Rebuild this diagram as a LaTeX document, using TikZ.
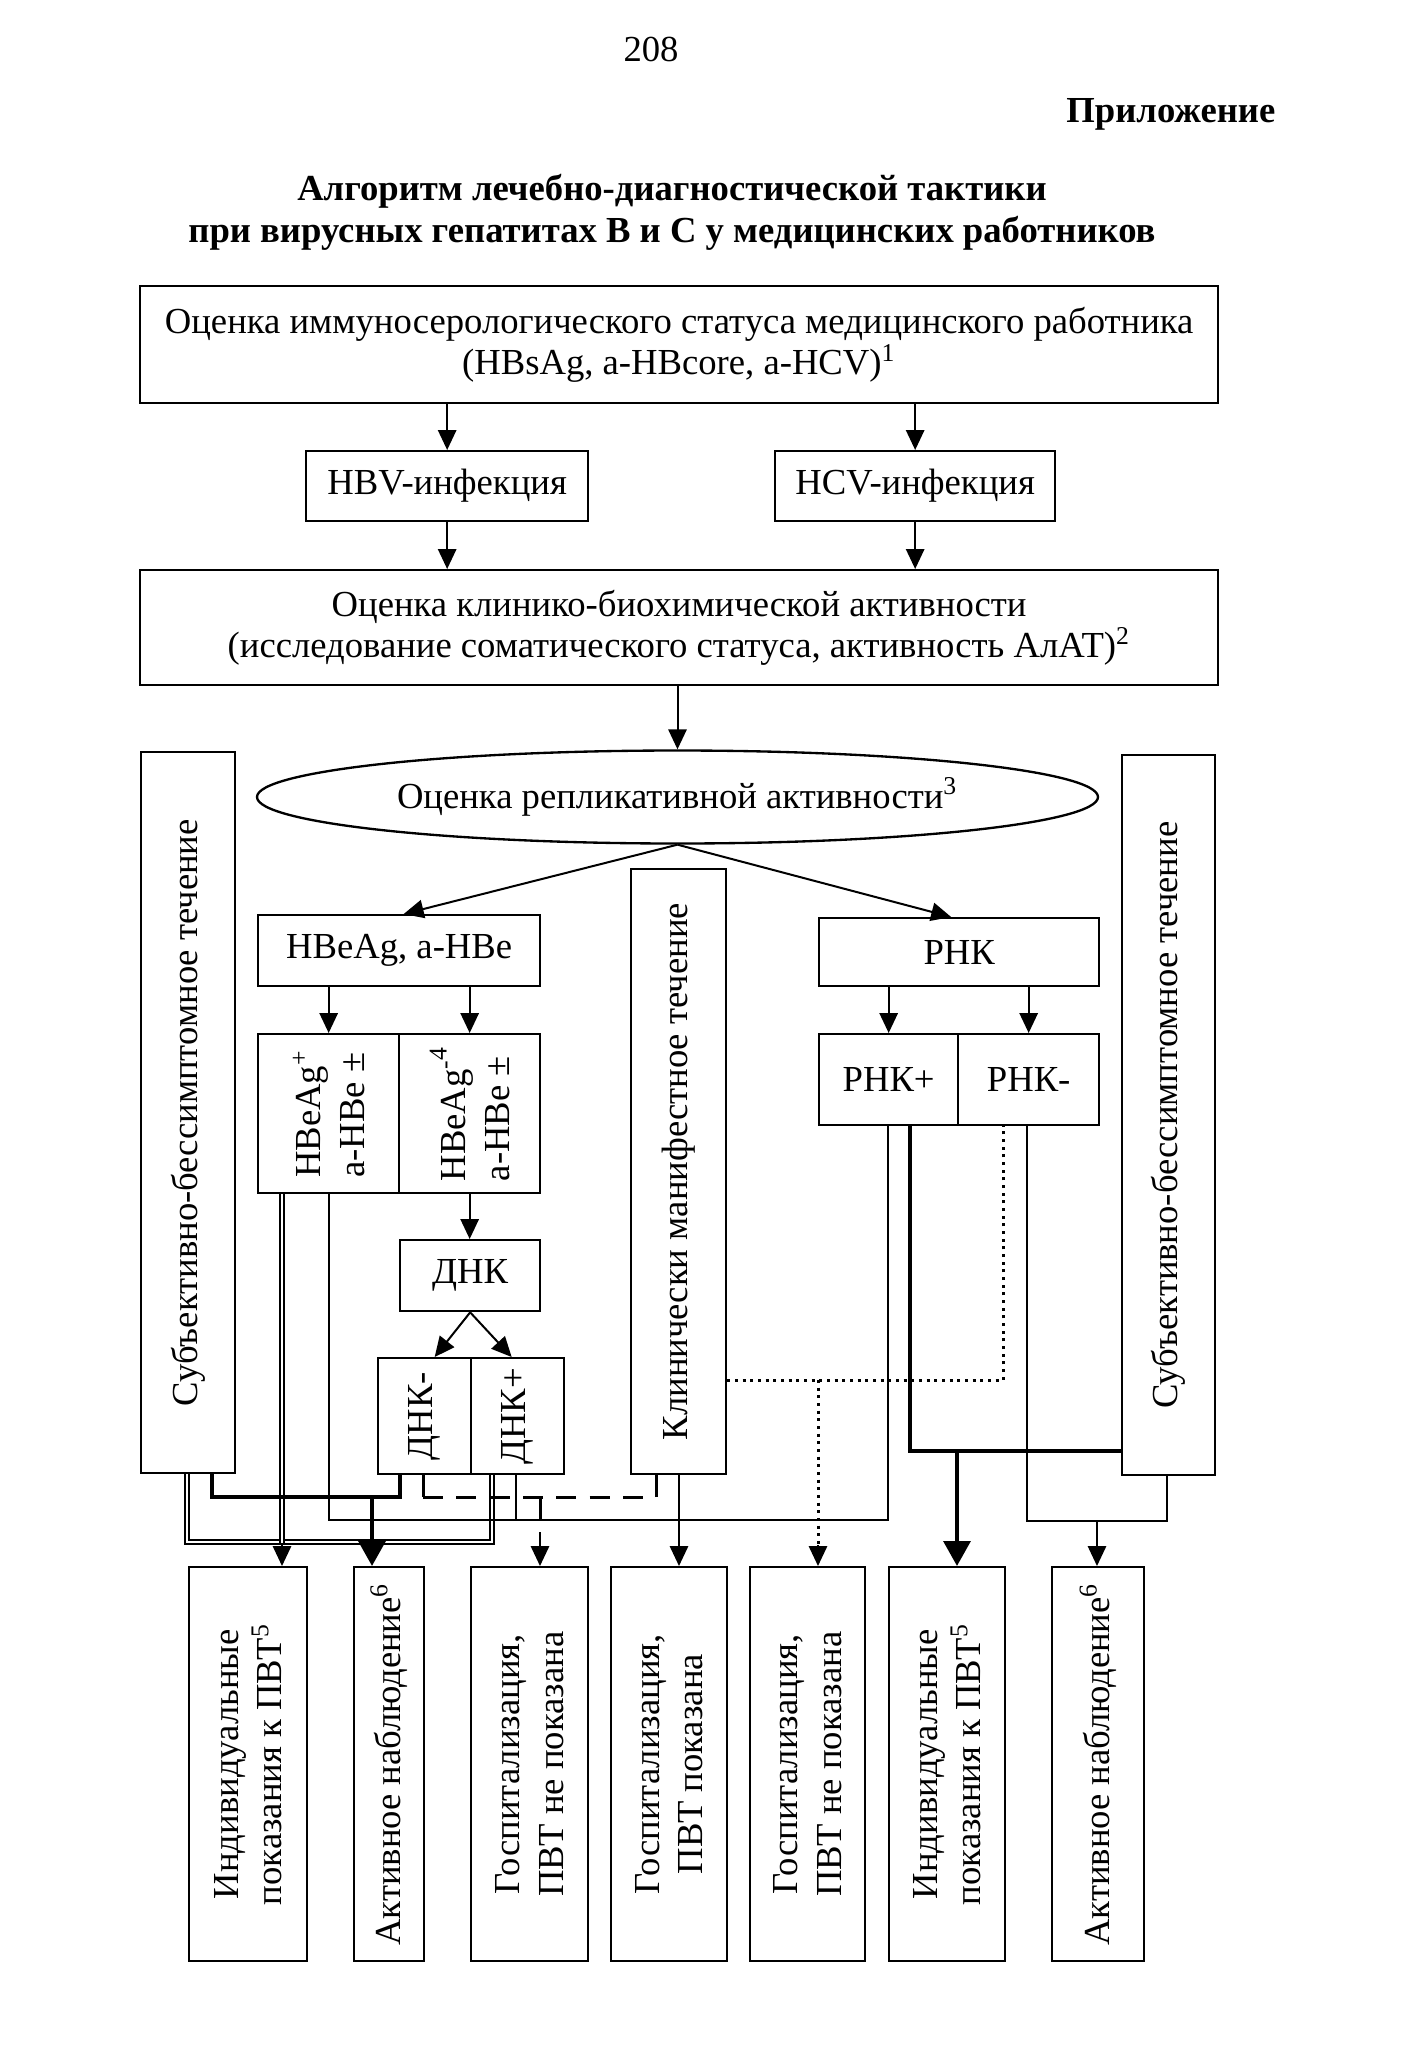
\documentclass[tikz,border=0pt]{standalone}
\usepackage{fontspec}
\setmainfont{Liberation Serif}
\usetikzlibrary{arrows.meta,calc,shapes.geometric}
\tikzset{
  box/.style={draw, line width=0.7pt, inner sep=0pt, anchor=north west, align=center, font=\fontsize{11}{12.5}\selectfont},
  rot/.style={rotate=90, inner sep=0pt, align=center, font=\fontsize{11}{13}\selectfont},
  txt/.style={inner sep=0pt, font=\fontsize{11}{13}\selectfont},
  btxt/.style={inner sep=0pt, font=\fontsize{11}{13}\selectfont\bfseries},
  arr/.style={line width=0.6pt, -{Triangle[length=6pt,width=5.5pt]}},
  tharr/.style={line width=1.3pt, -{Triangle[length=7.5pt,width=8pt]}},
  thk/.style={line width=1.3pt},
  thn/.style={line width=0.6pt},
  dbl/.style={double, double distance=0.7pt, line width=0.45pt},
  dsh/.style={line width=0.9pt, dash pattern=on 6pt off 4pt},
  dtt/.style={line width=0.9pt, dash pattern=on 0.9pt off 1.4pt}
}
\newcommand\bx[7][]{\node[box,minimum width={(#5-#3)*0.3pt},minimum height={(#6-#4)*0.3pt},#1] (#2) at (#3,#4) {#7};}
\begin{document}
\begin{tikzpicture}[x=0.3pt,y=-0.3pt]
\useasboundingbox (0,0) rectangle (1401,2050);
% header
\node[txt] (pg) at (651,49) {208};
\node[btxt, anchor=east] (app) at (1276,114) {Приложение};
\node[btxt] (t1) at (672,191) {Алгоритм лечебно-диагностической тактики};
\node[btxt] (t2) at (672,233) {при вирусных гепатитах В и С у медицинских работников};
% boxes
\bx{top}{139}{285}{1217}{402}{Оценка иммуносерологического статуса медицинского работника\\(HBsAg, a-HBcore, a-HCV)\textsuperscript{1}}
\bx{hbv}{305}{450}{587}{520}{HBV-инфекция}
\bx{hcv}{774}{450}{1054}{520}{HCV-инфекция}
\bx{bio}{139}{569}{1217}{684}{Оценка клинико-биохимической активности\\(исследование соматического статуса, активность АлАТ)\textsuperscript{2}}
\node[draw, ellipse, line width=0.7pt, inner sep=0pt, minimum width={841*0.3pt}, minimum height={93*0.3pt}, font=\fontsize{11}{13}\selectfont] (ell) at (677.5,797) {Оценка репликативной активности\textsuperscript{3}};
\bx{subL}{140}{751}{234}{1472}{}
\bx{subR}{1121}{754}{1214}{1474}{}
\bx{klin}{630}{868}{725}{1473}{}
\node[rot] (subLt) at (subL.center) {Субъективно-бессимптомное течение};
\node[rot] (subRt) at (subR.center) {Субъективно-бессимптомное течение};
\node[rot] (klint) at (klin.center) {Клинически манифестное течение};
\bx{hbe}{257}{914}{539}{985}{HBeAg, a-HBe}
\bx{hbp}{257}{1033}{398}{1192}{}
\bx{hbm}{398}{1033}{539}{1192}{}
\node[rot, align=left] (hbpt) at (hbp.center) {HBeAg\textsuperscript{+}\\a-HBe ±};
\node[rot, align=left] (hbmt) at (hbm.center) {HBeAg\textsuperscript{-\raisebox{0.5ex}{4}}\\a-HBe ±};
\bx{dnk}{399}{1239}{539}{1310}{ДНК}
\bx{dnkm}{377}{1357}{470}{1473}{}
\bx{dnkp}{470}{1357}{563}{1473}{}
\node[rot] (dnkmt) at (dnkm.center) {ДНК-};
\node[rot] (dnkpt) at (dnkp.center) {ДНК+};
\bx{rnk}{818}{917}{1098}{985}{РНК}
\bx{rnkp}{818}{1033}{957}{1124}{РНК+}
\bx{rnkm}{957}{1033}{1098}{1124}{РНК-}
% bottom boxes
\bx{b1}{188}{1566}{306}{1960}{}
\bx{b2}{353}{1566}{423}{1960}{}
\bx{b3}{470}{1566}{587}{1960}{}
\bx{b4}{610}{1566}{726}{1960}{}
\bx{b5}{749}{1566}{864}{1960}{}
\bx{b6}{888}{1566}{1004}{1960}{}
\bx{b7}{1051}{1566}{1143}{1960}{}
\node[rot] (b1t) at (b1.center) {Индивидуальные\\показания к ПВТ\textsuperscript{5}};
\node[rot] (b2t) at (b2.center) {Активное наблюдение\textsuperscript{6}};
\node[rot] (b3t) at (b3.center) {Госпитализация,\\ПВТ не показана};
\node[rot] (b4t) at (b4.center) {Госпитализация,\\ПВТ показана};
\node[rot] (b5t) at (b5.center) {Госпитализация,\\ПВТ не показана};
\node[rot] (b6t) at (b6.center) {Индивидуальные\\показания к ПВТ\textsuperscript{5}};
\node[rot] (b7t) at (b7.center) {Активное наблюдение\textsuperscript{6}};
% upper connectors
\draw[arr] (top.south -| hbv.north) -- (hbv.north);
\draw[arr] (top.south -| hcv.north) -- (hcv.north);
\draw[arr] (hbv.south) -- (hbv.south |- bio.north);
\draw[arr] (hcv.south) -- (hcv.south |- bio.north);
\draw[arr] (bio.south -| ell.north) -- (ell.north);
\draw[arr] (ell.south) -- ($(hbe.north)+(4.5,0)$);
\draw[arr] (ell.south) -- ($(rnk.north)+(-8,0)$);
\draw[arr] (hbe.south -| hbp.north) -- (hbp.north);
\draw[arr] (hbe.south -| hbm.north) -- (hbm.north);
\draw[arr] (hbm.south) -- (hbm.south |- dnk.north);
\draw[arr] (dnk.south) -- ($(dnkm.north)+(10,0)$);
\draw[arr] (dnk.south) -- ($(dnkp.north)+(-6,0)$);
\draw[arr] (rnk.south -| rnkp.north) -- (rnkp.north);
\draw[arr] (rnk.south -| rnkm.north) -- (rnkm.north);
% lower connectors
\draw[dbl] (subL.south -| 187,0) |- (492,1542) -- (dnkp.south -| 492,0);
\draw[dbl] (hbp.south -| 282,0) -- (282,1545);
\draw[arr] (282,1543) -- (b1.north -| 282,0);
\draw[thk] (subL.south -| 212,0) |- (400,1497) -- (dnkm.south -| 400,0);
\draw[tharr] (372,1497) -- (b2.north -| 372,0);
\draw[thn] (hbp.south -| 329,0) |- (888,1520) -- (rnkp.south -| 888,0);
\draw[thn] (dnkp.south -| 516,0) -- (516,1520);
\draw[line width=0.9pt] (dnkm.south -| 423,0) -- (423,1497);
\draw[dsh] (423,1497) -- (656,1497);
\draw[line width=0.9pt] (656,1497) -- (klin.south -| 656,0);
\draw[line width=0.9pt] (540,1497) -- (540,1520);
\draw[arr] (540,1532) -- (b3.north -| 540,0);
\draw[arr] (klin.south -| 679,0) -- (b4.north -| 679,0);
\draw[dtt] (klin.east |- 0,1380) -| (rnkm.south -| 1003,0);
\draw[dtt] (818,1380) -- (818,1548);
\draw[arr] (818,1545) -- (b5.north -| 818,0);
\draw[thk] (rnkp.south -| 910,0) |- (subR.west |- 0,1451);
\draw[tharr] (957,1451) -- (b6.north -| 957,0);
\draw[thn] (rnkm.south -| 1027,0) |- (1167,1521) -- (subR.south -| 1167,0);
\draw[arr] (1097,1521) -- (b7.north -| 1097,0);
\end{tikzpicture}
\end{document}
